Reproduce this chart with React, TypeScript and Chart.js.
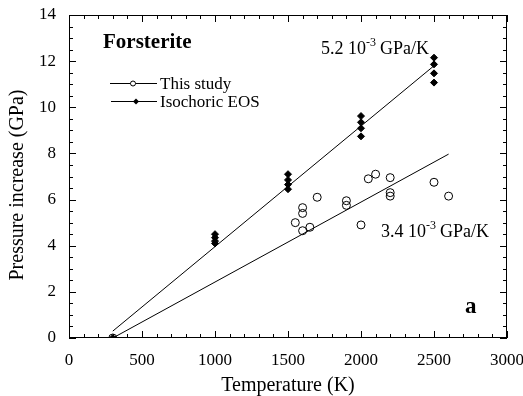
import React, { useEffect, useRef } from "react";
import { Chart, registerables } from "chart.js";

Chart.register(...registerables);

// ---- Data ----
const studyT = [300, 1550, 1600, 1600, 1600, 1650, 1700, 1900, 1900, 2000, 2050, 2100, 2200, 2200, 2200, 2500, 2600];
const studyP = [0, 5.0, 5.65, 5.4, 4.65, 4.8, 6.1, 5.95, 5.75, 4.9, 6.9, 7.1, 6.95, 6.3, 6.15, 6.75, 6.15];

const eosT = [300, 1000, 1000, 1000, 1000, 1500, 1500, 1500, 1500, 2000, 2000, 2000, 2000, 2500, 2500, 2500, 2500];
const eosP = [0, 4.5, 4.35, 4.2, 4.1, 7.1, 6.85, 6.65, 6.45, 9.62, 9.35, 9.09, 8.74, 12.15, 11.86, 11.47, 11.07];

const fitHighT = [300, 2500];
const fitHighP = [0.3, 11.8];
const fitLowT = [300, 2600];
const fitLowP = [0, 7.97];

const xTicks = [0, 500, 1000, 1500, 2000, 2500, 3000];
const yTicks = [0, 2, 4, 6, 8, 10, 12, 14];

const FONT = "'Liberation Serif', 'DejaVu Serif', serif";

const toXY = (xs: number[], ys: number[]) => xs.map((x, i) => ({ x, y: ys[i] }));

const decorPlugin = {
  id: "decor",
  afterDraw(chart: any) {
    const ctx = chart.ctx;
    const { left, right, top, bottom } = chart.chartArea;
    const xs = chart.scales.x;
    const ys = chart.scales.y;
    ctx.save();
    ctx.strokeStyle = "#000";
    ctx.lineWidth = 1;
    ctx.strokeRect(left + 0.5, top + 0.5, right - left - 1, bottom - top - 1);
    // inward ticks
    ctx.beginPath();
    for (let v = 0; v <= 3000; v += 100) {
      const px = Math.round(xs.getPixelForValue(v)) + 0.5;
      const len = v % 500 === 0 ? 7 : 4;
      ctx.moveTo(px, bottom);
      ctx.lineTo(px, bottom - len);
      ctx.moveTo(px, top);
      ctx.lineTo(px, top + len);
    }
    for (let v = 0; v <= 14; v += 0.5) {
      const py = Math.round(ys.getPixelForValue(v)) + 0.5;
      const len = v % 2 === 0 ? 7 : 4;
      ctx.moveTo(left, py);
      ctx.lineTo(left + len, py);
      ctx.moveTo(right, py);
      ctx.lineTo(right - len, py);
    }
    ctx.stroke();

    ctx.fillStyle = "#000";
    // tick labels
    ctx.font = `17px ${FONT}`;
    ctx.textAlign = "center";
    ctx.textBaseline = "alphabetic";
    xTicks.forEach((v) => {
      ctx.fillText(String(v), xs.getPixelForValue(v), 365);
    });
    ctx.textAlign = "right";
    ctx.textBaseline = "middle";
    yTicks.forEach((v) => {
      ctx.fillText(String(v), 56, ys.getPixelForValue(v));
    });

    // axis titles
    ctx.font = `20px ${FONT}`;
    ctx.textAlign = "center";
    ctx.textBaseline = "alphabetic";
    ctx.fillText("Temperature (K)", 288, 391);
    ctx.save();
    ctx.translate(23, 185);
    ctx.rotate(-Math.PI / 2);
    ctx.font = `20px ${FONT}`;
    ctx.fillText("Pressure increase (GPa)", 0, 0);
    ctx.restore();

    ctx.textAlign = "left";
    // title
    ctx.font = `bold 21px ${FONT}`;
    ctx.fillText("Forsterite", 103, 48);
    // panel letter
    ctx.font = `bold 23px ${FONT}`;
    ctx.fillText("a", 465, 313);

    // annotations with superscripts
    const sup = (x: number, y: number, a: string, s: string, b: string) => {
      ctx.font = `18px ${FONT}`;
      ctx.fillText(a, x, y);
      let w = ctx.measureText(a).width;
      ctx.font = `12px ${FONT}`;
      ctx.fillText(s, x + w, y - 8);
      w += ctx.measureText(s).width + 4;
      ctx.font = `18px ${FONT}`;
      ctx.fillText(b, x + w, y);
    };
    sup(321, 54, "5.2 10", "-3", "GPa/K");
    sup(381, 237, "3.4 10", "-3", "GPa/K");

    // legend
    ctx.lineWidth = 1;
    ctx.beginPath();
    ctx.moveTo(110, 83.5);
    ctx.lineTo(157, 83.5);
    ctx.moveTo(111, 101.5);
    ctx.lineTo(157, 101.5);
    ctx.stroke();
    ctx.fillStyle = "#fff";
    ctx.beginPath();
    ctx.arc(133, 83.5, 2.5, 0, Math.PI * 2);
    ctx.fill();
    ctx.stroke();
    ctx.fillStyle = "#000";
    ctx.beginPath();
    ctx.moveTo(136, 98.5);
    ctx.lineTo(139, 101.5);
    ctx.lineTo(136, 104.5);
    ctx.lineTo(133, 101.5);
    ctx.closePath();
    ctx.fill();
    ctx.font = `17px ${FONT}`;
    ctx.fillText("This study", 160, 89);
    ctx.fillText("Isochoric EOS", 160, 107);
    ctx.restore();
  },
};

export default function App() {
  const ref = useRef<HTMLCanvasElement>(null);
  useEffect(() => {
    if (!ref.current) return;
    const chart = new Chart(ref.current, {
      type: "scatter",
      data: {
        datasets: [
          {
            type: "line",
            data: toXY(fitHighT, fitHighP),
            borderColor: "#000",
            borderWidth: 1,
            pointRadius: 0,
            showLine: true,
          } as any,
          {
            type: "line",
            data: toXY(fitLowT, fitLowP),
            borderColor: "#000",
            borderWidth: 1,
            pointRadius: 0,
            showLine: true,
          } as any,
          {
            data: toXY(studyT, studyP),
            pointStyle: "circle",
            pointRadius: 4,
            borderColor: "#000",
            backgroundColor: "rgba(255,255,255,0)",
            borderWidth: 1,
          },
          {
            data: toXY(eosT, eosP),
            pointStyle: "rectRot",
            pointRadius: 3.5,
            borderColor: "#000",
            backgroundColor: "#000",
            borderWidth: 1,
          },
        ],
      },
      options: {
        responsive: false,
        animation: false,
        layout: { padding: { top: 15, right: 16, left: 0, bottom: 0 } },
        plugins: { legend: { display: false }, tooltip: { enabled: false } },
        scales: {
          x: {
            type: "linear",
            min: 0,
            max: 3000,
            afterFit: (s: any) => {
              s.height = 58;
            },
            grid: { display: false, drawTicks: false },
            border: { display: false },
            ticks: { display: false },
          },
          y: {
            type: "linear",
            min: 0,
            max: 14,
            afterFit: (s: any) => {
              s.width = 69;
            },
            grid: { display: false, drawTicks: false },
            border: { display: false },
            ticks: { display: false },
          },
        },
      },
      plugins: [decorPlugin],
    });
    return () => chart.destroy();
  }, []);
  return (
    <div style={{ position: "absolute", left: 0, top: 0, width: 523, height: 396, background: "#fff" }}>
      <canvas ref={ref} width={523} height={396} />
    </div>
  );
}
